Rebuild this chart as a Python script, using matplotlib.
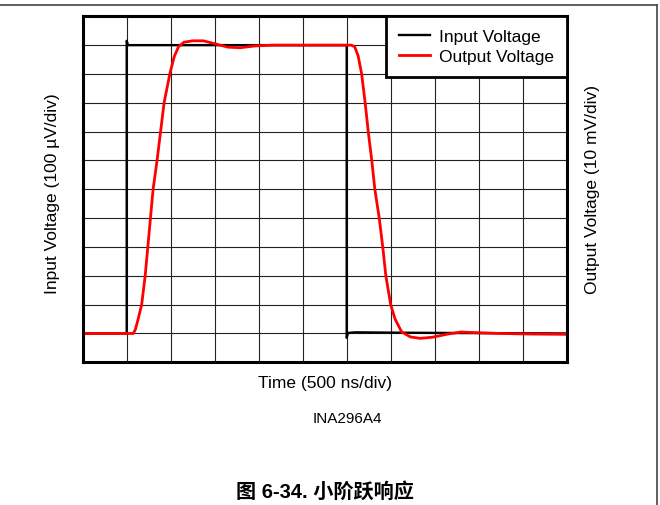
import numpy as np
import matplotlib as mpl
mpl.use('Agg')
import matplotlib.pyplot as plt
from matplotlib.lines import Line2D

# time in divisions (500 ns/div), voltage in divisions
t_in = [0, 1.0, 1.0, 1.03, 6.0, 6.0, 6.03, 6.2, 7.0, 8.0, 9.5, 11]
v_in = [1.0, 1.0, 11.15, 11.0, 11.0, 0.85, 1.02, 1.04, 1.03, 1.02, 1.01, 1.0]

t_out = [0, 1.15, 1.2, 1.26, 1.34, 1.42, 1.48, 1.54, 1.60, 1.69, 1.77, 1.85,
         1.98, 2.08, 2.18, 2.3, 2.5, 2.74, 3.0, 3.3, 3.58, 3.9, 4.3, 5.0, 6.1,
         6.18, 6.26, 6.34, 6.42, 6.49, 6.57, 6.64, 6.74, 6.82, 6.89, 7.0, 7.1,
         7.25, 7.45, 7.67, 7.95, 8.3, 8.6, 8.9, 9.5, 10.2, 11]
v_out = [1.0, 1.0, 1.15, 1.5, 2.0, 3.0, 4.0, 5.0, 6.0, 7.0, 8.0, 9.0,
         10.0, 10.6, 10.95, 11.1, 11.15, 11.15, 11.05, 10.93, 10.91, 10.97, 11.0, 11.0, 11.0,
         10.95, 10.63, 10.0, 9.0, 8.0, 7.0, 6.0, 5.0, 4.0, 3.0, 2.0, 1.5,
         1.05, 0.88, 0.83, 0.87, 0.98, 1.05, 1.03, 1.0, 0.98, 0.97]

plt.rcParams['font.family'] = ['Liberation Sans', 'Noto Sans CJK SC']

fig = plt.figure(figsize=(6.6, 5.06), dpi=100)
ax = fig.add_axes([0.1253, 0.282, 0.7333, 0.6838])

ax.plot(t_in, v_in, color='black', lw=1.7, label='Input Voltage', zorder=3)
ax.plot(t_out, v_out, color='red', lw=2.0, label='Output Voltage', zorder=4)

ax.set_xlim(0, 11)
ax.set_ylim(0, 12)
ax.set_xticks(range(12))
ax.set_yticks(range(13))
ax.tick_params(length=0, labelbottom=False, labelleft=False)
ax.grid(True, color='#222222', lw=0.8)
for s in ax.spines.values():
    s.set_linewidth(2.2)
    s.set_zorder(5)

leg = ax.legend(loc='upper right', borderaxespad=0, fancybox=False,
                edgecolor='black', framealpha=1, fontsize=12.5,
                handlelength=1.8, handletextpad=0.5, labelspacing=0.27,
                borderpad=0.75)
leg.get_frame().set_linewidth(2.0)
leg.set_zorder(6)

fig.text(0.492, 1 - 384 / 506, 'Time (500 ns/div)', fontsize=12.5,
         ha='center', va='center')
fig.text(53 / 660, 1 - 194 / 506, 'Input Voltage (100 µV/div)', fontsize=12.5,
         rotation=90, ha='center', va='center')
fig.text(593 / 660, 1 - 190 / 506, 'Output Voltage (10 mV/div)', fontsize=12.5,
         rotation=90, ha='center', va='center')
fig.text(0.527, 1 - 419 / 506, 'INA296A4', fontsize=11, ha='center', va='center')
fig.text(0.4924, 1 - 492 / 506, '图 6-34. 小阶跃响应', fontsize=14.5,
         weight='bold', ha='center', va='center')

# page frame lines
fig.add_artist(Line2D([0, 656.7 / 660], [1 - 5.7 / 506] * 2,
                      color='#444444', lw=1.2, transform=fig.transFigure))
fig.add_artist(Line2D([656.7 / 660] * 2, [0, 1 - 5.7 / 506],
                      color='#444444', lw=1.2, transform=fig.transFigure))

fig.savefig('out.png', dpi=100)
